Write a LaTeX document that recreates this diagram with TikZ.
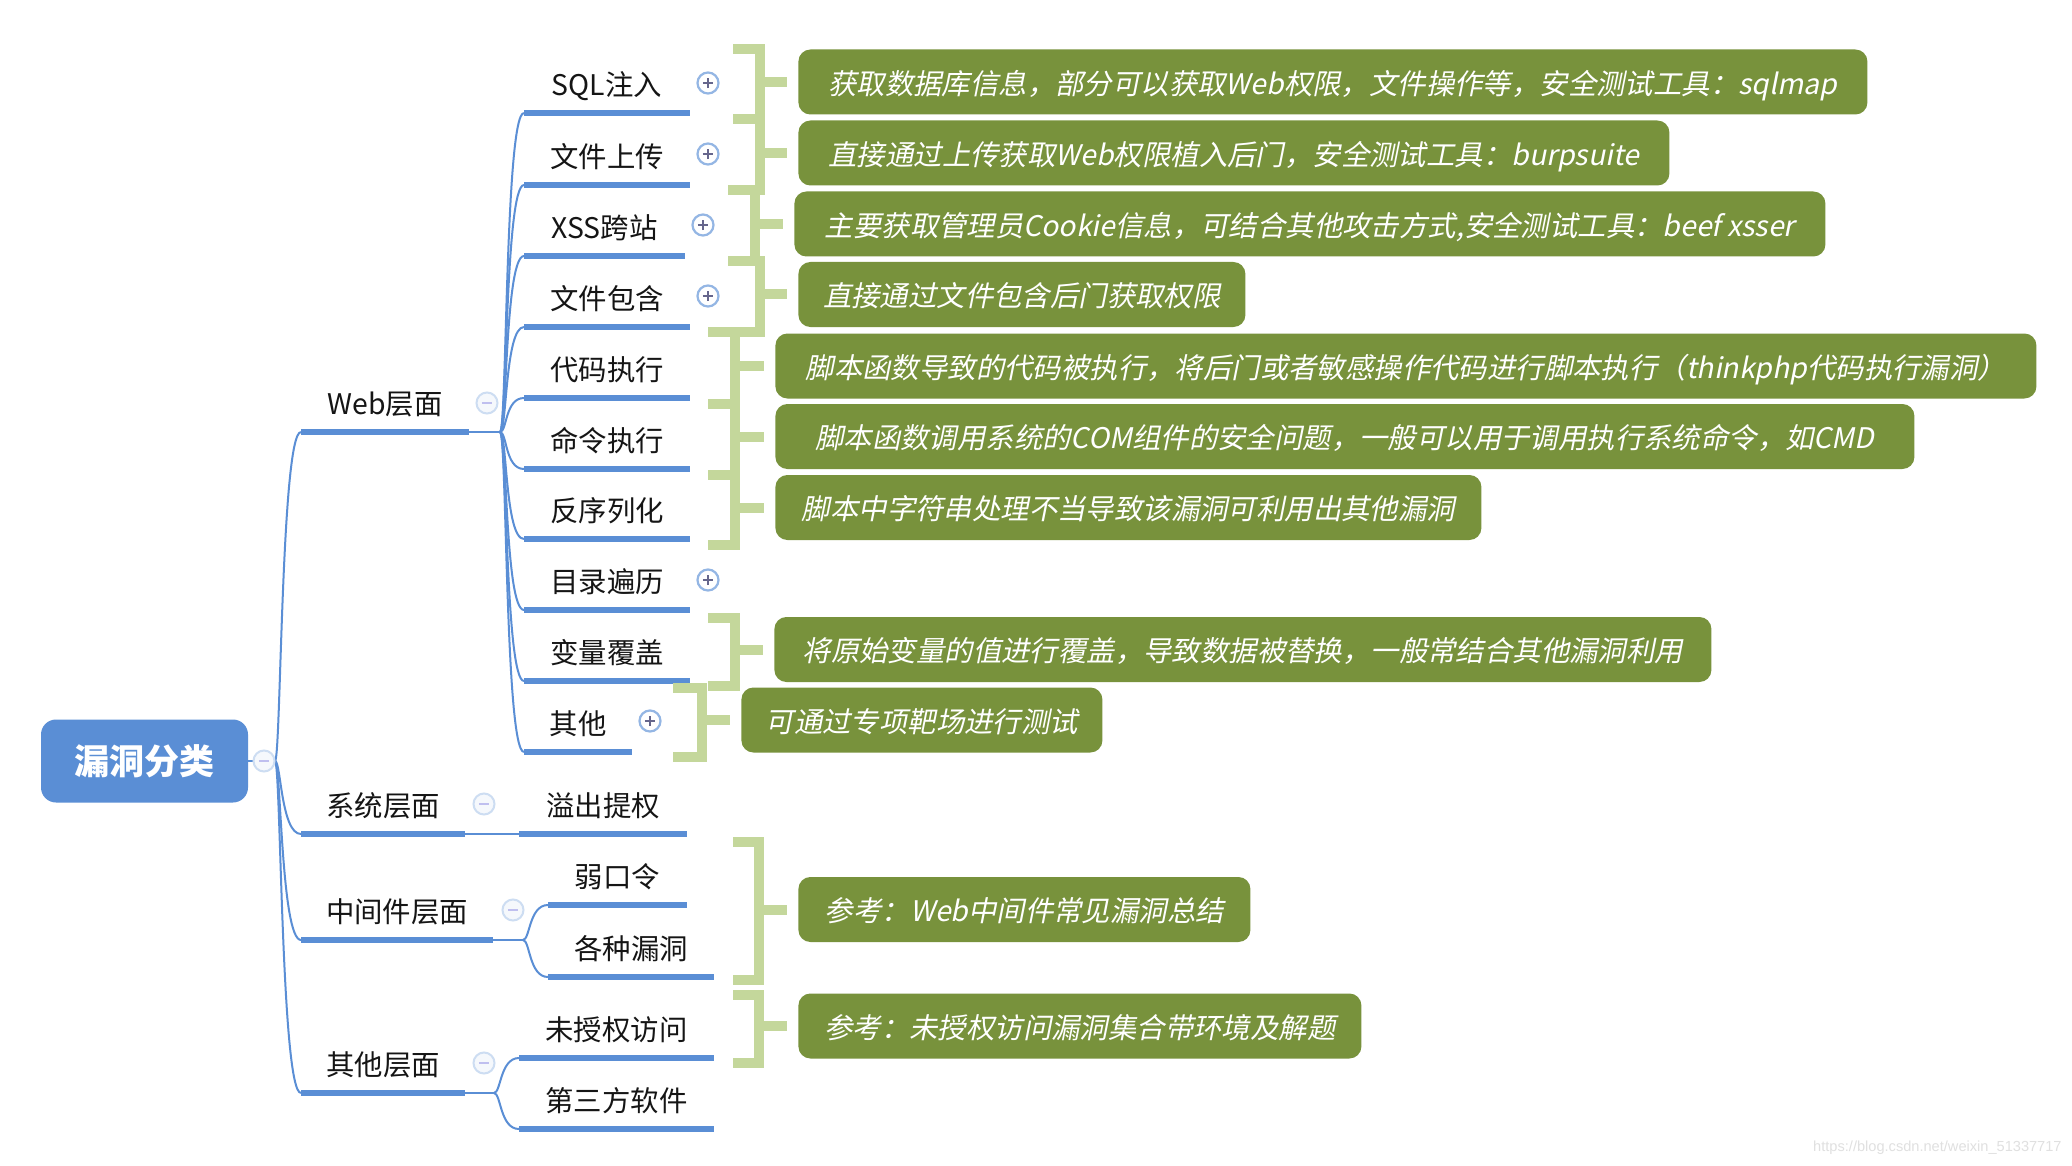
\documentclass[tikz,border=0pt]{standalone}
\usepackage{fontspec}
\newfontfamily\cjk{Noto Sans CJK SC}
\newfontfamily\cjkit[FakeSlant=0.2]{Noto Sans CJK SC}
\newfontfamily\wmfont{Liberation Sans}
\usetikzlibrary{calc}
\definecolor{bl}{HTML}{5A8ED5}
\definecolor{gr}{HTML}{78923C}
\definecolor{brk}{HTML}{C4D79B}
\definecolor{txt}{HTML}{151515}
\begin{document}
\begin{tikzpicture}[x=0.5pt,y=-0.5pt,
  lvl/.style={font=\cjk\fontsize{14.2}{17}\selectfont, inner sep=0pt, text=txt, text height=13pt, text depth=0.6pt},
  uline/.style={draw=bl, line width=2.8pt},
  conn/.style={draw=bl, line width=1pt},
  note/.style={fill=gr, rounded corners=6pt, text=white, anchor=west, inner sep=0pt,
     minimum height=32.5pt, text height=13pt, text depth=0.6pt, font=\cjkit\fontsize{14.2}{17}\selectfont},
  brkline/.style={draw=brk, line width=5pt, line cap=butt, line join=miter},
  pluscirc/.style={circle, draw=bl!65, line width=1.1pt, fill=white, minimum size=10.5pt, inner sep=0pt,
     path picture={\draw[line width=0.9pt, draw=black!75!blue!60]
       ([xshift=-2.6pt]path picture bounding box.center) -- ([xshift=2.6pt]path picture bounding box.center)
       ([yshift=-2.6pt]path picture bounding box.center) -- ([yshift=2.6pt]path picture bounding box.center);}},
  minuscirc/.style={circle, draw=bl!30, line width=1pt, fill=bl!6, minimum size=10.5pt, inner sep=0pt,
     path picture={\draw[line width=0.9pt, draw=black!25!blue!25]
       ([xshift=-2.6pt]path picture bounding box.center) -- ([xshift=2.6pt]path picture bounding box.center);}}
]
\useasboundingbox[fill=white] (0,0) rectangle (2072,1166);

% root
\node[fill=bl, rounded corners=7.5pt, minimum width=103.5pt, minimum height=41.5pt, inner sep=0pt,
  text=white, font=\cjk\bfseries\fontsize{17.5}{20}\selectfont] (root) at (144.5,761) {漏洞分类};
\coordinate (rootout) at (275,761);
\draw[conn] (root.east) -- (rootout);

% level 1
\foreach \n/\t/\u/\e in {web/Web层面/432/469, sys/系统层面/834/465, mw/中间件层面/940/493, oth/其他层面/1093/465}{
  \coordinate (\n s) at (301,\u);
  \coordinate (\n e) at (\e,\u);
  \draw[conn] (rootout) .. controls +(6,0) and +(-20,0) .. (\n s);
  \draw[uline] (\n s) -- (\n e);
  \node[lvl] (\n) at ($(\n s)!0.5!(\n e)+(0,-29.5)$) {\t};
}
\node[minuscirc] (rootc) at (264,761) {};
\node[minuscirc] (webc) at (487,403) {};
\node[minuscirc] (sysc) at (484,804) {};
\node[minuscirc] (mwc) at (513,910) {};
\node[minuscirc] (othc) at (484,1063) {};

% web children
\coordinate (webhub) at (500,432);
\draw[conn] (webe) -- (webhub);
\foreach \n/\t/\u/\e in {1/SQL注入/113/690, 2/文件上传/185/690, 3/XSS跨站/256/685, 4/文件包含/327/690,
   5/代码执行/398/690, 6/命令执行/469/690, 7/反序列化/539/690, 8/目录遍历/610/690, 9/变量覆盖/681/690, 10/其他/752/632}{
  \coordinate (ws\n) at (524,\u);
  \coordinate (we\n) at (\e,\u);
  \draw[conn] (webhub) .. controls +(7,0) and +(-19,0) .. (ws\n);
  \draw[uline] (ws\n) -- (we\n);
  \node[lvl] (w\n) at ($(ws\n)!0.5!(we\n)+(0,-29.5)$) {\t};
}
\node[pluscirc] (pc1) at (708,83) {};
\node[pluscirc] (pc2) at (708,154) {};
\node[pluscirc] (pc3) at (703,225) {};
\node[pluscirc] (pc4) at (708,296) {};
\node[pluscirc] (pc8) at (708,580) {};
\node[pluscirc] (pc10) at (650,721) {};

% system children
\coordinate (s1s) at (519,834);
\coordinate (s1e) at (687,834);
\draw[conn] (syse) -- (s1s);
\draw[uline] (s1s) -- (s1e);
\node[lvl] (s1) at ($(s1s)!0.5!(s1e)+(0,-29.5)$) {溢出提权};

% middleware children
\coordinate (mwhub) at (523,940);
\draw[conn] (mwe) -- (mwhub);
\foreach \n/\t/\u/\e in {1/弱口令/905/687, 2/各种漏洞/977/714}{
  \coordinate (ms\n) at (548,\u);
  \coordinate (me\n) at (\e,\u);
  \draw[conn] (mwhub) .. controls +(7,0) and +(-19,0) .. (ms\n);
  \draw[uline] (ms\n) -- (me\n);
  \node[lvl] (m\n) at ($(ms\n)!0.5!(me\n)+(0,-29.5)$) {\t};
}

% other children
\coordinate (othhub) at (494,1093);
\draw[conn] (othe) -- (othhub);
\foreach \n/\t/\u/\e in {1/未授权访问/1058/714, 2/第三方软件/1129/714}{
  \coordinate (os\n) at (519,\u);
  \coordinate (oe\n) at (\e,\u);
  \draw[conn] (othhub) .. controls +(7,0) and +(-19,0) .. (os\n);
  \draw[uline] (os\n) -- (oe\n);
  \node[lvl] (o\n) at ($(os\n)!0.5!(oe\n)+(0,-29.5)$) {\t};
}

% notes
\node[note, minimum width=534.5pt] (n1) at (798,82) {获取数据库信息，部分可以获取Web权限，文件操作等，安全测试工具：sqlmap};
\node[note, minimum width=435.5pt] (n2) at (798,153) {直接通过上传获取Web权限植入后门，安全测试工具：burpsuite};
\node[note, minimum width=515.5pt] (n3) at (794,224) {主要获取管理员Cookie信息，可结合其他攻击方式,安全测试工具：beef xsser};
\node[note, minimum width=223.5pt] (n4) at (798,294.5) {直接通过文件包含后门获取权限};
\node[note, minimum width=630.5pt] (n5) at (775,366) {脚本函数导致的代码被执行，将后门或者敏感操作代码进行脚本执行（thinkphp代码执行漏洞）};
\node[note, minimum width=569.5pt] (n6) at (775,436.5) {脚本函数调用系统的COM组件的安全问题，一般可以用于调用执行系统命令，如CMD};
\node[note, minimum width=353pt] (n7) at (775,507.5) {脚本中字符串处理不当导致该漏洞可利用出其他漏洞};
\node[note, minimum width=468.5pt] (n8) at (774,649.5) {将原始变量的值进行覆盖，导致数据被替换，一般常结合其他漏洞利用};
\node[note, minimum width=180.5pt] (n9) at (741,720) {可通过专项靶场进行测试};
\node[note, minimum width=226pt] (n10) at (798,909.5) {参考：Web中间件常见漏洞总结};
\node[note, minimum width=281.5pt] (n11) at (798,1026) {参考：未授权访问漏洞集合带环境及解题};

% brackets: left, vertical, top, bottom, note
\foreach \l/\v/\t/\b/\nn in {733/760/49/119/n1, 733/760/119/190/n2, 728/755/190/261/n3, 733/760/261/332/n4,
   708/735/332/404/n5, 708/735/404/475/n6, 708/735/475/545/n7, 708/735/618/686/n8, 673/702/688/757/n9,
   733/759/842/980/n10, 733/759/995/1063/n11}{
  \draw[brkline] (\l,\t) -- (\v,\t) -- (\v,\b) -- (\l,\b);
  \draw[brkline] (\v,0 |- \nn.west) -- ([xshift=-5.5pt]\nn.west);
}

% watermark
\node[anchor=east, inner sep=0pt, text=black!12, font=\wmfont\fontsize{7.3}{9}\selectfont] (wm) at (2062,1148) {https://blog.csdn.net/weixin\_51337717};
\end{tikzpicture}
\end{document}
